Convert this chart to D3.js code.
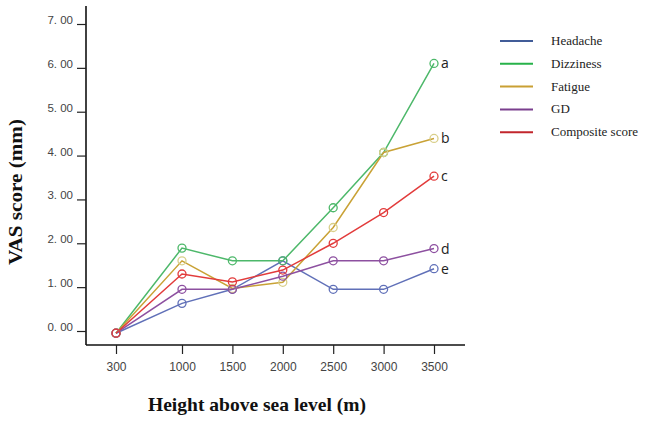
<!DOCTYPE html>
<html><head><meta charset="utf-8">
<script src="https://cdn.jsdelivr.net/npm/d3@7"></script>
<style>html,body{margin:0;padding:0;background:#fff;}</style>
</head><body>
<svg id="c" width="652" height="422"></svg>
<script>
const heights = [300, 1000, 1500, 2000, 2500, 3000, 3500];
const xTickLabels = ["300","1000","1500","2000","2500","3000","3500"];
const yTicks = [0,1,2,3,4,5,6,7];
const yTickLabels = ["0. 00","1. 00","2. 00","3. 00","4. 00","5. 00","6. 00","7. 00"];
const seriesNames = ["Headache","Dizziness","Fatigue","GD","Composite score"];
const headache  = [-0.05, 0.63, 0.95, 1.60, 0.95, 0.95, 1.42];
const dizziness = [-0.05, 1.89, 1.60, 1.60, 2.81, 4.07, 6.10];
const fatigue   = [-0.05, 1.60, 0.97, 1.11, 2.36, 4.07, 4.39];
const gd        = [-0.05, 0.95, 0.95, 1.25, 1.60, 1.60, 1.88];
const composite = [-0.05, 1.30, 1.12, 1.39, 2.00, 2.70, 3.53];
const endLabels = ["e","a","b","d","c"];
const lineColors   = ["#6070b8","#4db86a","#c9a236","#8d50a0","#e23b3b"];
const markerColors = ["#6a78bb","#5cbf76","#d9cf8a","#9a63ab","#e24848"];
const legendColors = ["#415c98","#27b24a","#c9a033","#7a3f8e","#c2262c"];

const svg = d3.select("#c");
const allSeries = [headache, dizziness, fatigue, gd, composite];

const x = d3.scaleLinear().domain([300, 1000, 3500]).range([116, 182, 434]);
const y = d3.scaleLinear().domain([0, 7]).range([331, 24]);

// axes lines
svg.append("line").attr("x1",86).attr("x2",86).attr("y1",6).attr("y2",345)
  .attr("stroke","#111").attr("stroke-width",1.6);
svg.append("line").attr("x1",86).attr("x2",465).attr("y1",345).attr("y2",345)
  .attr("stroke","#111").attr("stroke-width",1.6);

// y axis
const yAxis = d3.axisLeft(y).tickValues(yTicks).tickSize(9)
  .tickFormat((d,i)=>yTickLabels[i]);
const gy = svg.append("g").attr("transform","translate(86,0)").call(yAxis);
gy.select(".domain").remove();
gy.selectAll(".tick line").attr("stroke","#222").attr("stroke-width",1.2);
gy.selectAll(".tick text").attr("x",-13).attr("dy","-0.05em")
  .attr("font-family","'Liberation Sans', Arial, sans-serif").attr("font-size",11.5).attr("fill","#444");

// x axis
const xAxis = d3.axisBottom(x).tickValues(heights).tickSize(9)
  .tickFormat((d,i)=>xTickLabels[i]);
const gx = svg.append("g").attr("transform","translate(0,345)").call(xAxis);
gx.select(".domain").remove();
gx.selectAll(".tick line").attr("stroke","#222").attr("stroke-width",1.2);
gx.selectAll(".tick text").attr("y",17)
  .attr("font-family","'Liberation Sans', Arial, sans-serif").attr("font-size",12).attr("fill","#444");

// titles
svg.append("text").attr("transform","translate(22,192) rotate(-90)")
  .attr("text-anchor","middle").attr("font-family","'Liberation Serif', serif")
  .attr("font-weight","bold").attr("font-size",18).attr("fill","#111")
  .attr("textLength",146).attr("lengthAdjust","spacingAndGlyphs").text("VAS score (mm)");
svg.append("text").attr("x",257).attr("y",411)
  .attr("text-anchor","middle").attr("font-family","'Liberation Serif', serif")
  .attr("font-weight","bold").attr("font-size",19).attr("fill","#111")
  .attr("textLength",218).attr("lengthAdjust","spacingAndGlyphs").text("Height above sea level (m)");

// lines
const line = d3.line().x((d,i)=>x(heights[i])).y(d=>y(d));
allSeries.forEach((s,k)=>{
  svg.append("path").datum(s).attr("d",line).attr("fill","none")
    .attr("stroke",lineColors[k]).attr("stroke-width",1.5);
});
allSeries.forEach((s,k)=>{
  svg.append("g").selectAll("circle").data(s).join("circle")
    .attr("cx",(d,i)=>x(heights[i])).attr("cy",d=>y(d)).attr("r",4)
    .attr("fill","none").attr("stroke",k===2?markerColors[k]:lineColors[k]).attr("stroke-width",1.3);
  svg.append("text").attr("x",x(heights[6])+7).attr("y",y(s[6])+5)
    .attr("font-family","'Open Sans', 'Liberation Sans', sans-serif").attr("font-size",14)
    .attr("fill","#222").text(endLabels[k]);
});

// legend
const lg = svg.append("g");
seriesNames.forEach((n,k)=>{
  const yy = 41 + k*22.8;
  lg.append("line").attr("x1",500).attr("x2",533).attr("y1",yy).attr("y2",yy)
    .attr("stroke",legendColors[k]).attr("stroke-width",2);
  lg.append("text").attr("x",551).attr("y",yy+4).attr("font-family","'Liberation Serif', serif")
    .attr("font-size",13).attr("fill","#222").text(n);
});
</script>
</body></html>
